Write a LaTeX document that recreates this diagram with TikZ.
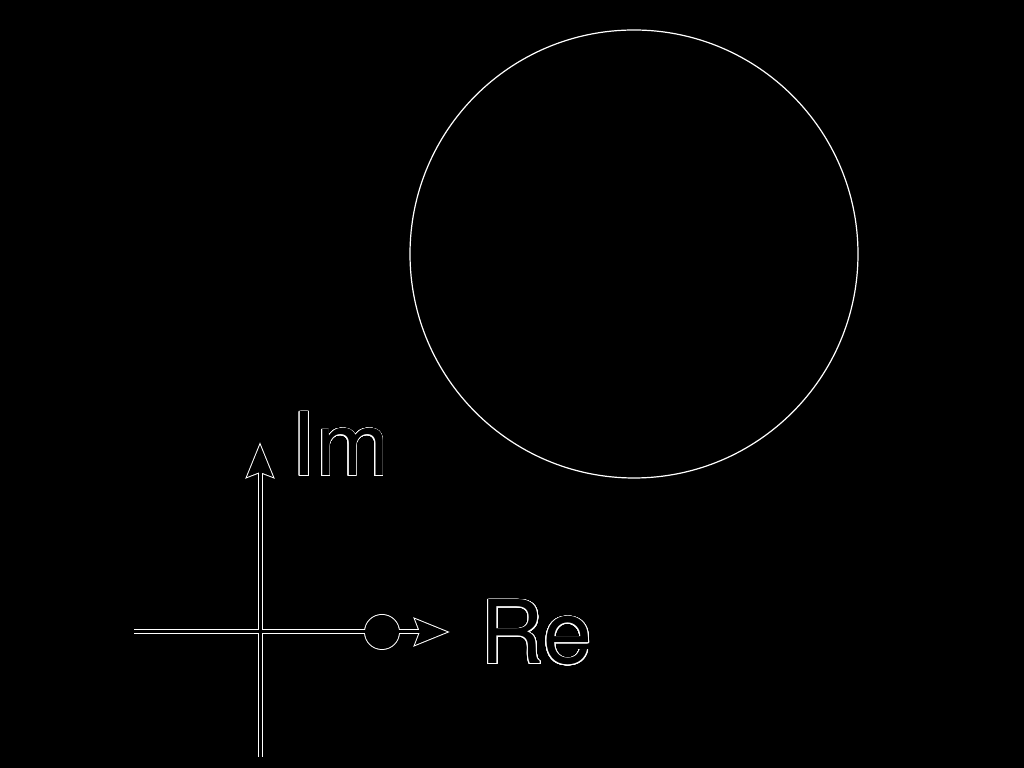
\documentclass[tikz,border=0pt]{standalone}
\usepackage{fontspec}
\setsansfont{TeX Gyre Heros}
\usepackage{contour}
\usetikzlibrary{positioning,calc}
\contourlength{0.008cm}
\contournumber{32}

\begin{document}
\begin{tikzpicture}
    % Styles
    \tikzstyle{axisout} = [draw=white, line width=0.05cm]
    \tikzstyle{axisin} = [draw=black, line width=0.03cm]
    \tikzstyle{headout} = [fill=white, draw=white, line width=0.02cm]
    \tikzstyle{headin} = [fill=black]
    \tikzstyle{unitcircle} = [draw=white, line width=0.012cm]
    \tikzstyle{axislabel} = [font=\sffamily\fontsize{25pt}{30pt}\selectfont, text=black, inner sep=0pt, anchor=base west]

    % Background
    \fill[black] (0,0) rectangle (10.24,7.68);

    % Points
    \coordinate (orig) at (2.60, 1.36);
    \coordinate (xmin) at (1.34, 1.36);
    \coordinate (xtip) at (4.47, 1.36);
    \coordinate (xback) at (4.20, 1.36);
    \coordinate (ymin) at (2.60, 0.11);
    \coordinate (ytip) at (2.60, 3.23);
    \coordinate (yback) at (2.60, 2.98);
    \coordinate (pt) at (3.82, 1.36);
    \coordinate (ctr) at (6.34, 5.14);

    % Circle
    \draw[unitcircle] (ctr) circle (2.24);

    % Axes, outer strokes
    \draw[axisout] (xmin) -- (xback);
    \draw[axisout] (ymin) -- (yback);
    \fill[white] (pt) circle (0.18);
    \foreach \tip/\ang in {xtip/0, ytip/90}
        \filldraw[headout, shift={(\tip)}, rotate=\ang] (0,0) -- (-0.32,0.13) -- (-0.27,0) -- (-0.32,-0.13) -- cycle;

    % Axes, inner strokes
    \draw[axisin] (xmin) -- (xback);
    \draw[axisin] (ymin) -- (yback);
    \fill[black] (pt) circle (0.17);
    \foreach \tip/\ang in {xtip/0, ytip/90}
        \fill[headin, shift={(\tip)}, rotate=\ang] (0,0) -- (-0.32,0.13) -- (-0.27,0) -- (-0.32,-0.13) -- cycle;

    % Labels
    \node[axislabel] (imlabel) at (2.91, 2.92) {\contour{white}{Im}};
    \node[axislabel] (relabel) at (4.80, 1.04) {\contour{white}{Re}};
\end{tikzpicture}
\end{document}
